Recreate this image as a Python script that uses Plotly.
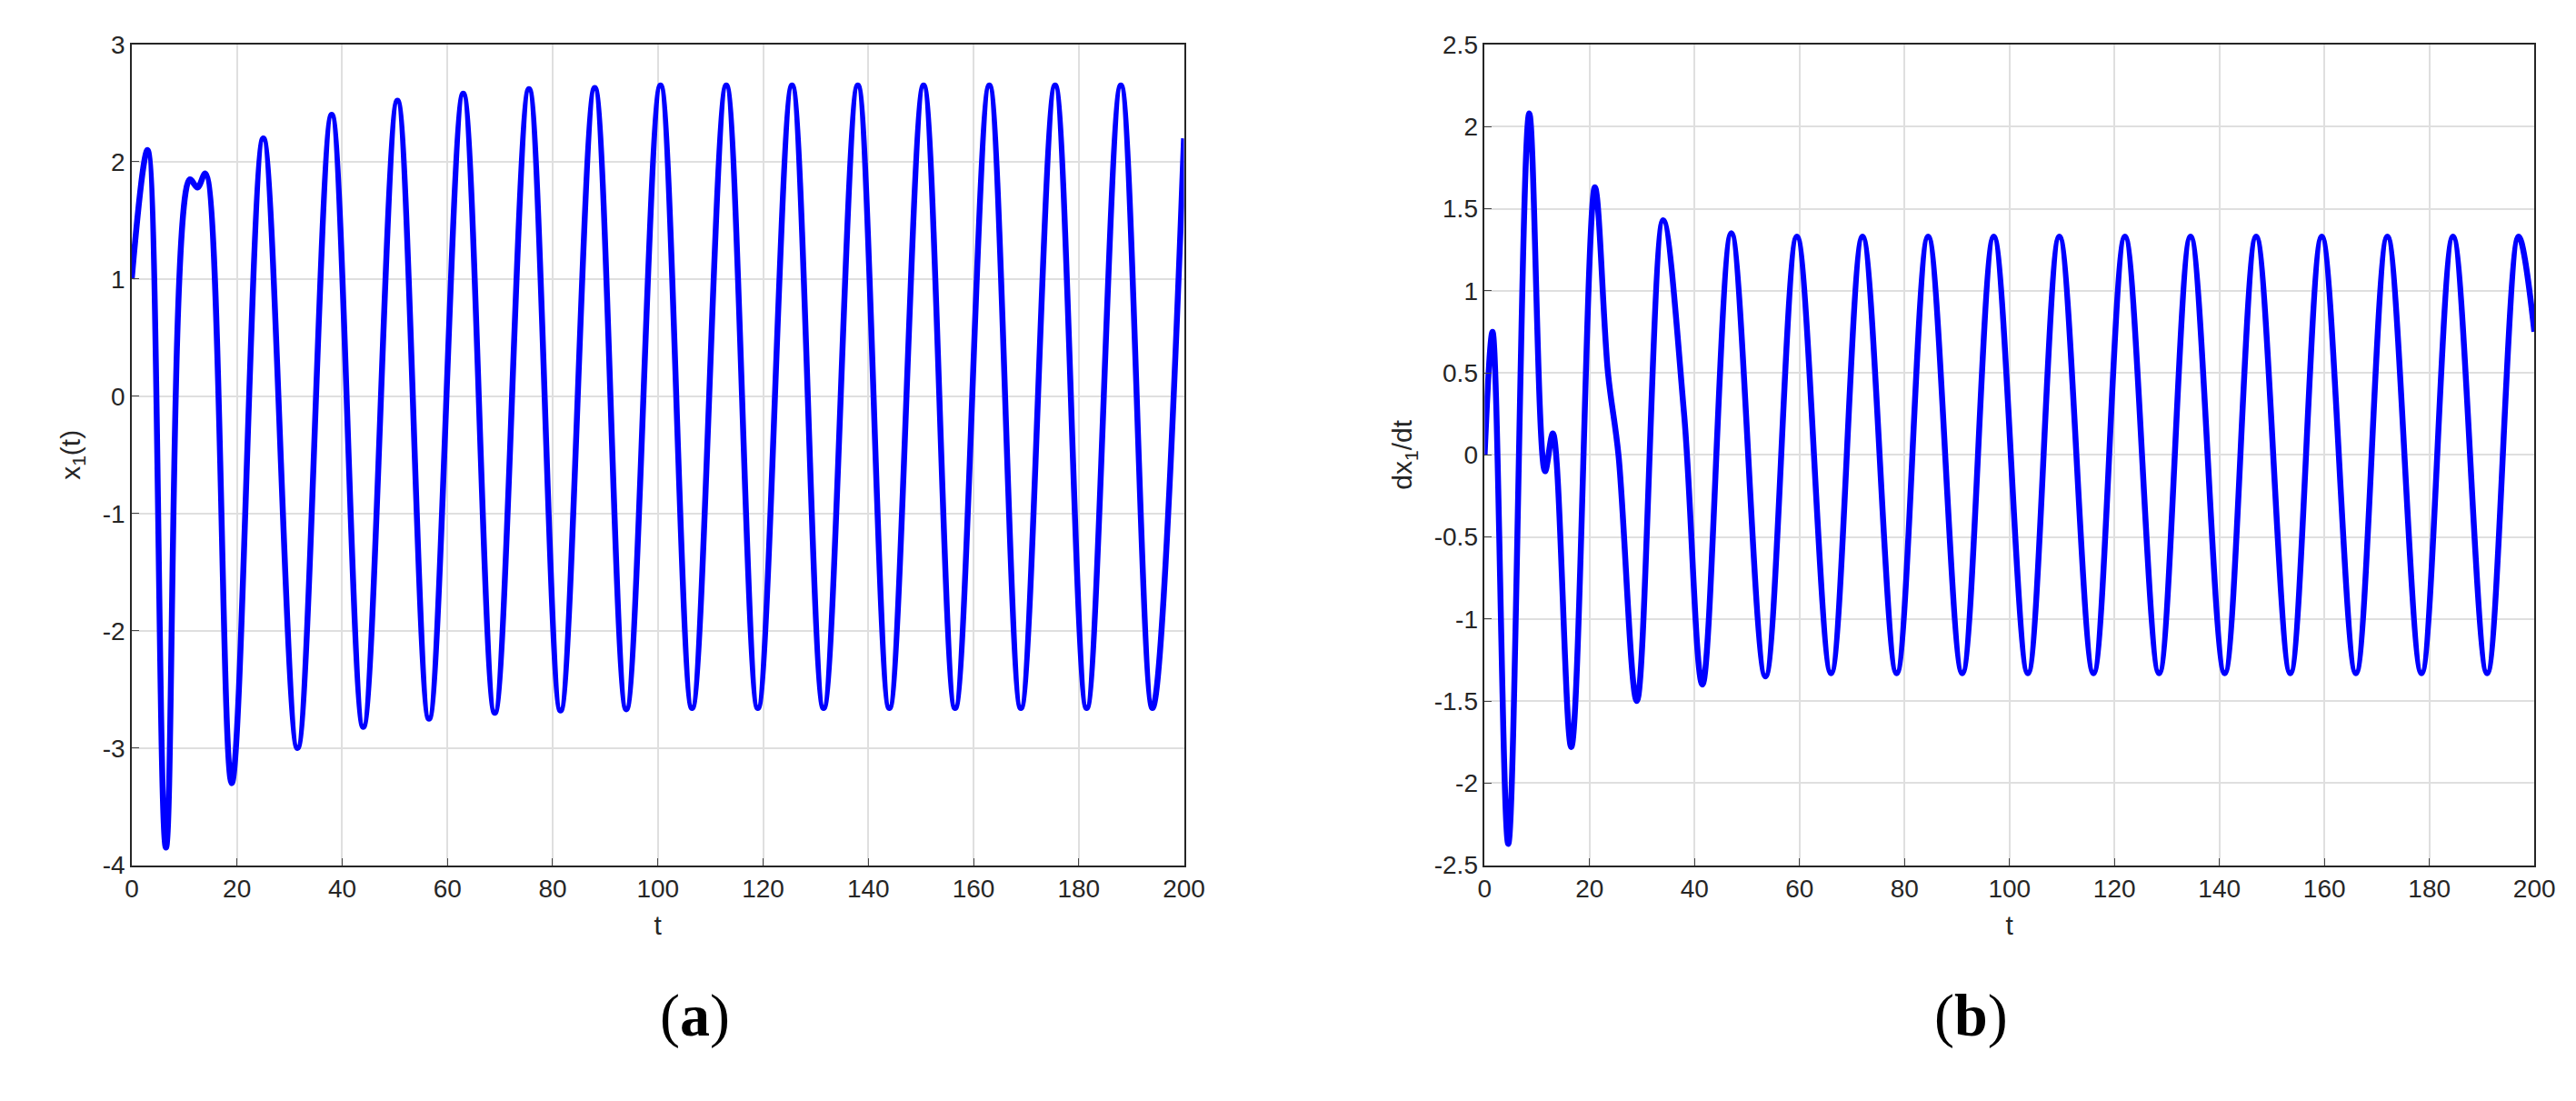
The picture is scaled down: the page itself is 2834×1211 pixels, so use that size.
import plotly.graph_objects as go

t_a = [0,3,6.5,11,12.5,14,19,25,31.5,38,44,50.5,56.5,63,69,75.5,81.5,88,94,100.5,106.5,113,119,125.5,131.5,138,144,150.5,156.5,163,169,175.5,181.5,188,194,200]
x_a = [1.0,2.1,-3.85,1.85,1.78,1.9,-3.3,2.2,-3.0,2.4,-2.82,2.52,-2.75,2.58,-2.7,2.62,-2.68,2.63,-2.67,2.65,-2.66,2.65,-2.66,2.65,-2.66,2.65,-2.66,2.65,-2.66,2.65,-2.66,2.65,-2.66,2.65,-2.66,2.2]

t_b = [0,1.5,4.5,8.5,11.5,13,16.5,21,23.5,25.5,29,34,38,41.5,47,53.5,59.5,66,72,78.5,84.5,91,97,103.5,109.5,116,122,128.5,134.5,141,147,153.5,159.5,166,172,178.5,184.5,191,197,200]
x_b = [0,0.75,-2.37,2.08,-0.1,0.13,-1.78,1.63,0.5,0.0,-1.5,1.43,0.25,-1.4,1.35,-1.35,1.33,-1.33,1.33,-1.33,1.33,-1.33,1.33,-1.33,1.33,-1.33,1.33,-1.33,1.33,-1.33,1.33,-1.33,1.33,-1.33,1.33,-1.33,1.33,-1.33,1.33,0.75]

yticks_a = [-4, -3, -2, -1, 0, 1, 2, 3]
yticks_b = [-2.5, -2, -1.5, -1, -0.5, 0, 0.5, 1, 1.5, 2, 2.5]

fig = go.Figure()
line = dict(color="#0000FF", width=6.5, shape="spline", smoothing=1.0)
fig.add_trace(go.Scatter(x=t_a, y=x_a, mode="lines", line=line, xaxis="x", yaxis="y", showlegend=False))
fig.add_trace(go.Scatter(x=t_b, y=x_b, mode="lines", line=line, xaxis="x2", yaxis="y2", showlegend=False))

ax = dict(showline=True, linecolor="#262626", linewidth=1.5, mirror=True, ticks="inside", ticklen=8,
          showgrid=True, gridcolor="#DFDFDF", gridwidth=1.5, zeroline=False,
          tickfont=dict(family="Liberation Sans", size=28, color="#262626"))
tf = dict(family="Liberation Sans", size=30, color="#262626")
fig.update_layout(
    width=2834, height=1211, plot_bgcolor="white", paper_bgcolor="white",
    margin=dict(l=0, r=0, t=0, b=0),
    xaxis=dict(ax, domain=[0.046, 0.459], range=[0, 200], dtick=20, anchor="y", title=dict(text="t", font=tf)),
    yaxis=dict(ax, domain=[0.213, 0.978], range=[-4, 3], tickvals=yticks_a,
               ticktext=[f"{v:g}" for v in yticks_a], anchor="x", title=dict(text="x<sub>1</sub>(t)", font=tf)),
    xaxis2=dict(ax, domain=[0.577, 0.989], range=[0, 200], dtick=20, anchor="y2", title=dict(text="t", font=tf)),
    yaxis2=dict(ax, domain=[0.213, 0.978], range=[-2.5, 2.5], tickvals=yticks_b,
                ticktext=[f"{v:g}" for v in yticks_b], anchor="x2", title=dict(text="dx<sub>1</sub>/dt", font=tf)),
    annotations=[
        dict(text="(<b>a</b>)", x=0.2525, y=0.04, xref="paper", yref="paper", showarrow=False,
             font=dict(family="Liberation Serif", size=66, color="black")),
        dict(text="(<b>b</b>)", x=0.783, y=0.04, xref="paper", yref="paper", showarrow=False,
             font=dict(family="Liberation Serif", size=66, color="black")),
    ],
)
fig.write_html("out.html")
